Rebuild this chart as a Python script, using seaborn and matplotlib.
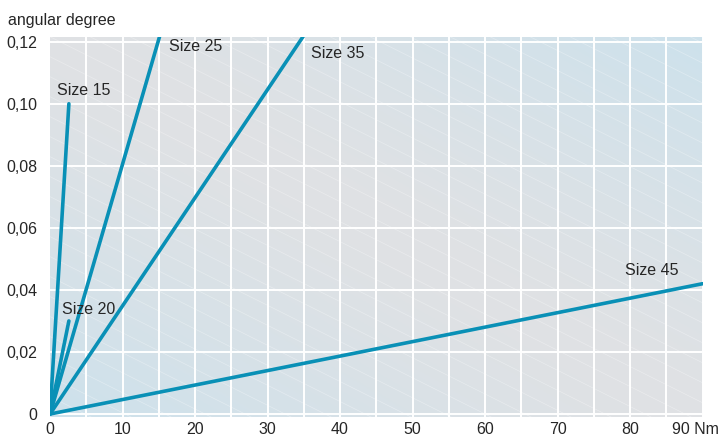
import numpy as np
import pandas as pd
import matplotlib.pyplot as plt
import matplotlib.ticker as mtick
import matplotlib.transforms as mtrans
import seaborn as sns

# torsional stiffness: end points of each size line (Nm, angular degree)
sizes = ['Size 15', 'Size 20', 'Size 25', 'Size 35', 'Size 45']
torque_end = [2.6, 2.6, 15.15, 35.0, 90.0]
angle_end = [0.100, 0.030, 0.122, 0.122, 0.042]

x_ticks = [0, 10, 20, 30, 40, 50, 60, 70, 80, 90]
x_labels = ['0', '10', '20', '30', '40', '50', '60', '70', '80', '90 Nm']
y_ticks = [0, 0.02, 0.04, 0.06, 0.08, 0.10, 0.12]
y_labels = ['0', '0,02', '0,04', '0,06', '0,08', '0,10', '0,12']

line_color = '#0990b6'
text_color = '#262626'

if __name__ == '__main__':
    rows = []
    for s, tx, ay in zip(sizes, torque_end, angle_end):
        rows.append({'size': s, 'torque': 0.0, 'angle': 0.0})
        rows.append({'size': s, 'torque': tx, 'angle': ay})
    df = pd.DataFrame(rows)

    sns.set_theme(style='white')
    plt.rcParams['font.family'] = ['Liberation Sans', 'DejaVu Sans']

    fig = plt.figure(figsize=(7.23, 4.37), dpi=100)
    ax = fig.add_axes([0.0692, 0.0469, 0.9025, 0.869])

    # background: grey along the main diagonal, blue towards the other corners
    n = 200
    gx, gy = np.meshgrid(np.linspace(0, 1, n), np.linspace(0, 1, n))
    w = np.clip(np.abs(gx + gy - 1.0), 0, 1) ** 1.2
    grey = np.array([224, 225, 228]) / 255
    blue = np.array([205, 226, 236]) / 255
    img = grey[None, None, :] * (1 - w[..., None]) + blue[None, None, :] * w[..., None]
    ax.imshow(img, extent=(0, 1, 0, 1), origin='lower', aspect='auto',
              transform=ax.transAxes, zorder=0)

    # faint diagonal hatch lines
    xs = np.array([0.0, 1.0])
    slope = 0.5 * 652.5 / 380
    for c in np.arange(0.0, 1 + slope, 20 / 380):
        ax.plot(xs, c - slope * xs, color='white', alpha=0.35, lw=0.5,
                transform=ax.transAxes, zorder=0.2)

    sns.lineplot(data=df, x='torque', y='angle', hue='size',
                 palette=[line_color] * len(sizes), linewidth=2.6,
                 legend=False, ax=ax, zorder=3)

    ax.set_xlim(0, 90)
    ax.set_ylim(-0.0008, 0.1216)
    ax.set_xticks(x_ticks)
    ax.set_xticklabels(x_labels)
    ax.xaxis.set_minor_locator(mtick.MultipleLocator(5))
    ax.set_yticks(y_ticks)
    ax.set_yticklabels(y_labels)
    ax.set_axisbelow(True)
    ax.grid(True, which='both', axis='x', color='white', lw=1.4, zorder=0.5)
    ax.grid(True, which='major', axis='y', color='white', lw=1.4, zorder=0.5)
    ax.get_xgridlines()[0].set_visible(False)
    ax.tick_params(axis='both', which='both', length=0, labelsize=11.5,
                   labelcolor=text_color)
    ax.tick_params(axis='x', pad=4)
    ax.tick_params(axis='y', pad=9)
    for sp in ax.spines.values():
        sp.set_visible(False)
    ax.set_xlabel('')
    ax.set_ylabel('')

    # pull the "90 Nm" label a little to the left so it stays inside
    last = ax.get_xticklabels()[-1]
    last.set_transform(last.get_transform() +
                       mtrans.ScaledTranslation(-7 / 100, 0, fig.dpi_scale_trans))

    # size labels near the ends of the lines
    offsets = {'Size 15': (-12, 13, 'left'), 'Size 20': (-7, 11, 'left'),
               'Size 25': (9, -11, 'left'), 'Size 35': (7, -18, 'left'),
               'Size 45': (-24, 13, 'right')}
    for s, tx, ay in zip(sizes, torque_end, angle_end):
        dx, dy, ha = offsets[s]
        ax.annotate(s, (tx, ay), xytext=(dx, dy), textcoords='offset pixels',
                    ha=ha, va='center', fontsize=11.5, color=text_color,
                    annotation_clip=False, zorder=4)

    fig.text(8 / 723, 1 - 20 / 437, 'angular degree', ha='left', va='center',
             fontsize=11.5, color=text_color)

    fig.savefig('out.png', dpi=100)
